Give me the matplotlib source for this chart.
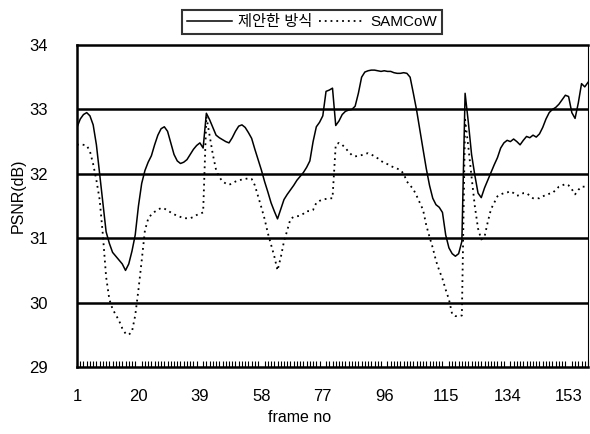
import matplotlib
matplotlib.use("Agg")
import matplotlib.pyplot as plt
import numpy as np

plt.rcParams['font.family'] = ['Liberation Sans', 'Noto Sans CJK KR', 'DejaVu Sans']

frames = list(range(1, 160))
tick_frames = [1, 20, 39, 58, 77, 96, 115, 134, 153]
y_ticks = [29, 30, 31, 32, 33, 34]
series_names = ["제안한 방식", "SAMCoW"]

proposed = [
    32.72, 32.85, 32.92, 32.95, 32.90, 32.76, 32.45, 32.00, 31.55, 31.10,
    30.92, 30.78, 30.72, 30.66, 30.60, 30.50, 30.60, 30.80, 31.05, 31.50,
    31.85, 32.05, 32.18, 32.28, 32.45, 32.60, 32.70, 32.73, 32.66, 32.48,
    32.30, 32.20, 32.16, 32.18, 32.22, 32.30, 32.38, 32.44, 32.48, 32.40,
    32.94, 32.84, 32.72, 32.60, 32.56, 32.53, 32.50, 32.48, 32.56, 32.66,
    32.74, 32.76, 32.72, 32.64, 32.55, 32.38, 32.22, 32.06, 31.88, 31.72,
    31.55, 31.42, 31.30, 31.45, 31.60, 31.68, 31.75, 31.82, 31.90, 31.96,
    32.02, 32.10, 32.20, 32.50, 32.73, 32.80, 32.90, 33.28, 33.30, 33.33,
    32.75, 32.82, 32.92, 32.97, 32.99, 33.00, 33.05, 33.25, 33.50, 33.58,
    33.60, 33.61, 33.61, 33.60, 33.59, 33.60, 33.59, 33.59, 33.57, 33.56,
    33.56, 33.57, 33.56, 33.50, 33.25, 32.99, 32.68, 32.38, 32.08, 31.82,
    31.62, 31.52, 31.48, 31.40, 31.05, 30.85, 30.76, 30.72, 30.76, 30.95,
    33.25, 32.80, 32.30, 31.98, 31.70, 31.63, 31.78, 31.90, 32.02, 32.14,
    32.25, 32.40, 32.48, 32.52, 32.50, 32.54, 32.50, 32.45, 32.52, 32.58,
    32.56, 32.60, 32.57, 32.62, 32.72, 32.85, 32.95, 33.00, 33.03, 33.08,
    33.15, 33.22, 33.20, 32.95, 32.86, 33.10, 33.40, 33.35, 33.42,
]

samcow = [
    32.45, 32.46, 32.45, 32.44, 32.35, 32.15, 31.90, 31.60, 31.05, 30.40,
    30.05, 29.90, 29.81, 29.72, 29.60, 29.52, 29.50, 29.55, 29.80, 30.20,
    30.65, 31.12, 31.30, 31.37, 31.41, 31.44, 31.47, 31.46, 31.43, 31.40,
    31.37, 31.35, 31.33, 31.31, 31.31, 31.31, 31.33, 31.36, 31.38, 31.40,
    32.89, 32.60, 32.30, 32.06, 31.95, 31.88, 31.85, 31.83, 31.85, 31.88,
    31.90, 31.91, 31.92, 31.93, 31.92, 31.82, 31.65, 31.48, 31.30, 31.08,
    30.90, 30.72, 30.50, 30.70, 30.95, 31.12, 31.30, 31.33, 31.34, 31.35,
    31.38, 31.42, 31.42, 31.44, 31.55, 31.58, 31.60, 31.61, 31.62, 31.62,
    32.45, 32.48, 32.45, 32.40, 32.34, 32.29, 32.27, 32.28, 32.29, 32.31,
    32.32, 32.30, 32.27, 32.24, 32.20, 32.17, 32.15, 32.12, 32.10, 32.08,
    32.06, 32.00, 31.88, 31.82, 31.76, 31.66, 31.55, 31.44, 31.20, 31.02,
    30.85, 30.65, 30.50, 30.37, 30.20, 30.05, 29.82, 29.79, 29.79, 29.80,
    32.84, 32.42, 31.95, 31.50, 31.15, 30.98, 31.02, 31.25, 31.45, 31.55,
    31.65, 31.68, 31.70, 31.71, 31.73, 31.70, 31.66, 31.67, 31.70, 31.70,
    31.66, 31.62, 31.62, 31.62, 31.65, 31.67, 31.69, 31.70, 31.75, 31.80,
    31.82, 31.84, 31.82, 31.76, 31.68, 31.75, 31.80, 31.80, 31.83,
]

fig = plt.figure(figsize=(5.9, 4.34), dpi=100)
ax = fig.add_axes([77/590, 1-367/434, (588-77)/590, (367-45)/434])

for yv in y_ticks[1:-1]:
    ax.axhline(yv, color='black', lw=1.8, zorder=1)

l1, = ax.plot(frames, proposed, color='black', lw=1.1, zorder=3, label=series_names[0])
l2, = ax.plot(frames, samcow, color='black', lw=1.3, linestyle=(0, (1, 2.2)), zorder=3,
              label=series_names[1])

ax.set_xlim(1, 159)
ax.set_ylim(29, 34)
ax.set_yticks(y_ticks)
ax.set_yticklabels([str(v) for v in y_ticks])
ax.set_xticks(tick_frames)
ax.set_xticklabels([str(v) for v in tick_frames])
ax.set_xticks(frames, minor=True)
ax.tick_params(axis='x', which='major', length=0, pad=16, labelsize=12)
ax.tick_params(axis='x', which='minor', direction='in', length=4, width=0.8)
ax.tick_params(axis='y', which='major', length=0, pad=21, labelsize=12)

for side in ['left', 'bottom', 'top']:
    ax.spines[side].set_linewidth(1.8)
ax.spines['right'].set_linewidth(0.8)

fig.text(300/590, 1-418/434, "frame no", ha='center', va='center', fontsize=11.5)
fig.text(18/590, 1-196/434, "PSNR(dB)", ha='center', va='center', rotation=90, fontsize=11.5)

leg = fig.legend(handles=[l1, l2], loc='center', bbox_to_anchor=(312/590, 1-22/434),
                 ncol=2, frameon=True, fontsize=11, handlelength=3.0,
                 handletextpad=0.4, columnspacing=0.4, borderpad=0.3,
                 fancybox=False, edgecolor='black')
leg.get_frame().set_linewidth(1.5)

fig.savefig("out.png", dpi=100)
